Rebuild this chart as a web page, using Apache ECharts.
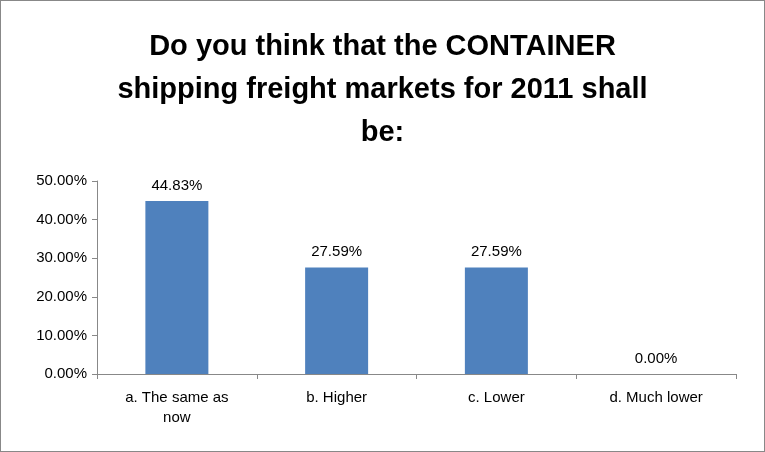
<!DOCTYPE html>
<html><head><meta charset="utf-8">
<script src="https://cdn.jsdelivr.net/npm/echarts@6/dist/echarts.min.js"></script>
<style>html,body{margin:0;padding:0;background:#fff}#c{width:765px;height:452px;box-sizing:border-box;border:1px solid #888;}</style>
</head><body><div id="c"></div>
<script>
const categories = ['a. The same as\nnow', 'b. Higher', 'c. Lower', 'd. Much lower'];
const values = [44.83, 27.59, 27.59, 0.00];
const yTicks = [0, 10, 20, 30, 40, 50];
const chart = echarts.init(document.getElementById('c'));
chart.setOption({
  animation: false,
  title: {
    text: 'Do you think that the CONTAINER\nshipping freight markets for 2011 shall\nbe:',
    left: 'center', top: 19,
    textStyle: {fontFamily: 'Liberation Sans', fontSize: 29, fontWeight: 'bold', color: '#000', lineHeight: 43}
  },
  grid: {left: 96, right: 28, top: 180, bottom: 77},
  xAxis: {
    type: 'category', data: categories,
    axisLine: {lineStyle: {color: '#888'}},
    axisTick: {show: true, alignWithLabel: false, lineStyle: {color: '#888'}},
    axisLabel: {color: '#000', fontSize: 15, fontFamily: 'Liberation Sans', margin: 14, lineHeight: 20}
  },
  yAxis: {
    type: 'value', min: yTicks[0], max: yTicks[yTicks.length-1], interval: 10,
    axisLine: {show: true, lineStyle: {color: '#888'}},
    axisTick: {show: true, lineStyle: {color: '#888'}},
    splitLine: {show: false},
    axisLabel: {color: '#000', fontSize: 15, fontFamily: 'Liberation Sans', margin: 10, formatter: v => v.toFixed(2) + '%'}
  },
  series: [{
    type: 'bar', data: values, barWidth: 63,
    itemStyle: {color: '#4f81bd'},
    label: {show: true, position: 'top', distance: 8, color: '#000', fontSize: 15, fontFamily: 'Liberation Sans', formatter: p => p.value.toFixed(2) + '%'}
  }]
});
</script></body></html>
